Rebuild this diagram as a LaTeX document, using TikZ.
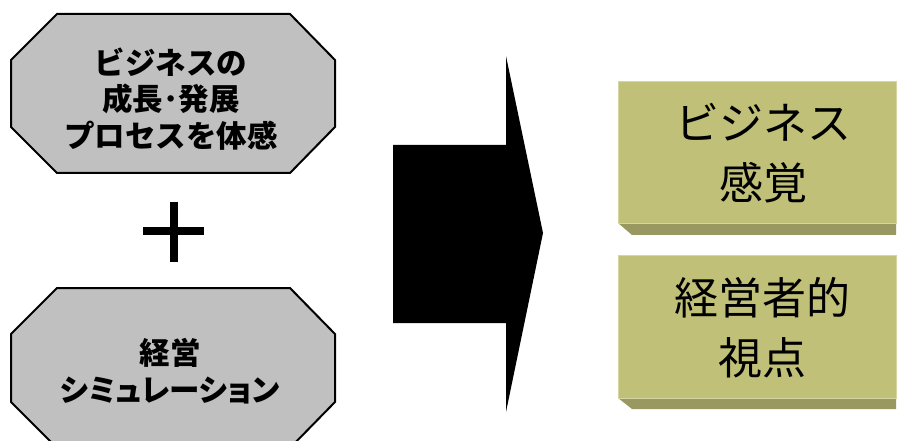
\documentclass[tikz,border=0pt]{standalone}
\usepackage{fontspec}
\newfontfamily\jp{Noto Sans CJK JP}
\newfontfamily\jpprop{Noto Sans CJK JP}[RawFeature=+palt]
\definecolor{octfill}{RGB}{192,192,192}
\definecolor{khaki}{RGB}{192,192,120}
\definecolor{khakidark}{RGB}{152,152,96}
\definecolor{khakiedge}{RGB}{214,214,160}
\tikzset{
  octo/.style={draw=black, line width=2pt, fill=octfill, line join=miter},
  lefttext/.style={font=\jp\bfseries\fontsize{30.5}{36.5}\selectfont, align=center, inner sep=0pt},
  righttext/.style={font=\jp\fontsize{44}{60}\selectfont, align=center, inner sep=0pt},
  face/.style={fill=khaki, draw=khakiedge, line width=0.8pt},
  bevel/.style={fill=khakidark, draw=none},
}
\begin{document}
\begin{tikzpicture}[x=1pt,y=-1pt]
\useasboundingbox (0,0) rectangle (898,441);
\begin{scope}
\clip (0,0) rectangle (898,441);
% octagon 1
\draw[octo] (57,14) -- (290,14) -- (335,60) -- (335,127) -- (290,173) -- (57,173) -- (11,127) -- (11,60) -- cycle;
\node[lefttext] (t1) at (171,99) {ビジネスの\\成長･発展\\プロセスを体感};
% plus
\fill (169.5,202) rectangle (178,262);
\fill (143,227) rectangle (204,235.5);
% octagon 2
\draw[octo] (57,288) -- (290,288) -- (335,334) -- (335,402) -- (290,448) -- (57,448) -- (11,402) -- (11,334) -- cycle;
\node[lefttext] (t2) at (170,371) {経営\\{\jpprop\bfseries シミュレーション}};
% big arrow
\fill[black] (393,145) -- (506,145) -- (506,56) -- (543,233) -- (506,412) -- (506,323) -- (393,323) -- cycle;
% right box 1
\fill[bevel] (618,223) -- (896,223) -- (896,235) -- (632,235) -- cycle;
\draw[face] (618,81) rectangle (896,223);
\node[righttext] (r1) at (763,153) {ビジネス\\感覚};
% right box 2
\fill[bevel] (618,398) -- (896,398) -- (896,409) -- (632,409) -- cycle;
\draw[face] (618,255) rectangle (896,398);
\node[righttext] (r2) at (762,328) {経営者的\\視点};
\end{scope}
\end{tikzpicture}
\end{document}
